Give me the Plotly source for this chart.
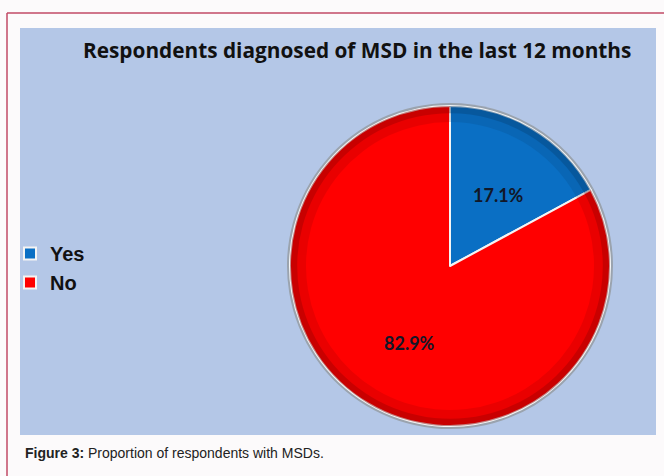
import math
import plotly.graph_objects as go

# Survey result: diagnosed with a musculoskeletal disorder in the last 12 months
labels = ["Yes", "No"]
shares = [17.1, 82.9]
colors = ["#0A6FC4", "#FF0000"]
rim_colors = ["#053F73", "#8C0000"]

W, H = 664, 476


def px_x(x):
    return x / W


def px_y(y):
    return 1 - y / H


cx, cy, r = 450, 266, 160
pie_domain = dict(x=[px_x(cx - r), px_x(cx + r)], y=[px_y(cy + r), px_y(cy - r)])

fig = go.Figure()

# soft grey halo around the pie
fig.add_trace(go.Pie(
    labels=labels, values=shares, sort=False, direction="clockwise", rotation=0,
    marker=dict(colors=["#9AA3AE", "#9AA3AE"], line=dict(width=0)),
    textinfo="none", hoverinfo="skip", showlegend=False,
    domain=dict(x=[px_x(cx - r - 3), px_x(cx + r + 3)], y=[px_y(cy + r + 3), px_y(cy - r - 3)]),
))

# main pie
fig.add_trace(go.Pie(
    labels=labels, values=shares, sort=False, direction="clockwise", rotation=0,
    marker=dict(colors=colors, line=dict(color="#F4F4F4", width=2)),
    textinfo="none", hoverinfo="label+percent", showlegend=True,
    domain=pie_domain,
))

# darker bevel bands along the circumference
for hole, alpha in [(0.90, 0.18), (0.955, 0.35)]:
    fig.add_trace(go.Pie(
        labels=labels, values=shares, sort=False, direction="clockwise", rotation=0, hole=hole,
        marker=dict(colors=rim_colors, line=dict(width=0)),
        opacity=alpha, textinfo="none", hoverinfo="skip", showlegend=False,
        domain=pie_domain,
    ))

# percentage labels placed along each slice's mid-angle
total = sum(shares)
annotations = []
start = 0.0
for value in shares:
    mid = math.radians((start + value / 2) / total * 360)
    start += value
    lx = cx + 0.54 * r * math.sin(mid)
    ly = cy - 0.54 * r * math.cos(mid)
    annotations.append(dict(
        text=f"<b>{value:.1f}%</b>", xref="paper", yref="paper",
        x=px_x(lx + 4), y=px_y(ly + 3), xanchor="center", yanchor="middle", showarrow=False,
        font=dict(family="Lato", size=18, color="#121728"),
    ))

annotations += [
    dict(text="<b>Respondents diagnosed of MSD in the last 12 months</b>", xref="paper", yref="paper",
         x=px_x(357), y=px_y(50), xanchor="center", yanchor="middle", showarrow=False,
         font=dict(family="Open Sans", size=20.8, color="#111111")),
    dict(text="<b>Figure 3:</b> Proportion of respondents with MSDs.", xref="paper", yref="paper",
         x=px_x(23), y=px_y(453), xanchor="left", yanchor="middle", showarrow=False,
         font=dict(family="Liberation Sans, Arial", size=14, color="#222222")),
]

shapes = [
    # light blue chart panel
    dict(type="rect", xref="paper", yref="paper", x0=px_x(20), x1=px_x(656), y0=px_y(435), y1=px_y(28),
         fillcolor="#B4C7E7", line=dict(width=0), layer="below"),
    # frame lines
    dict(type="line", xref="paper", yref="paper", x0=px_x(7), x1=1, y0=px_y(13), y1=px_y(13),
         line=dict(color="#C24A66", width=1.5)),
    dict(type="line", xref="paper", yref="paper", x0=px_x(7), x1=px_x(7), y0=px_y(13), y1=0,
         line=dict(color="#C24A66", width=1.5)),
]

fig.update_layout(
    width=W, height=H,
    margin=dict(l=0, r=0, t=0, b=0),
    paper_bgcolor="#FCFAFB",
    plot_bgcolor="#FCFAFB",
    shapes=shapes,
    annotations=annotations,
    legend=dict(x=px_x(10), y=px_y(268), xanchor="left", yanchor="middle",
                bgcolor="rgba(0,0,0,0)", itemwidth=30,
                font=dict(family="Liberation Sans, Arial", size=20, color="#111111", weight="bold")),
)

fig.write_html("out.html")
